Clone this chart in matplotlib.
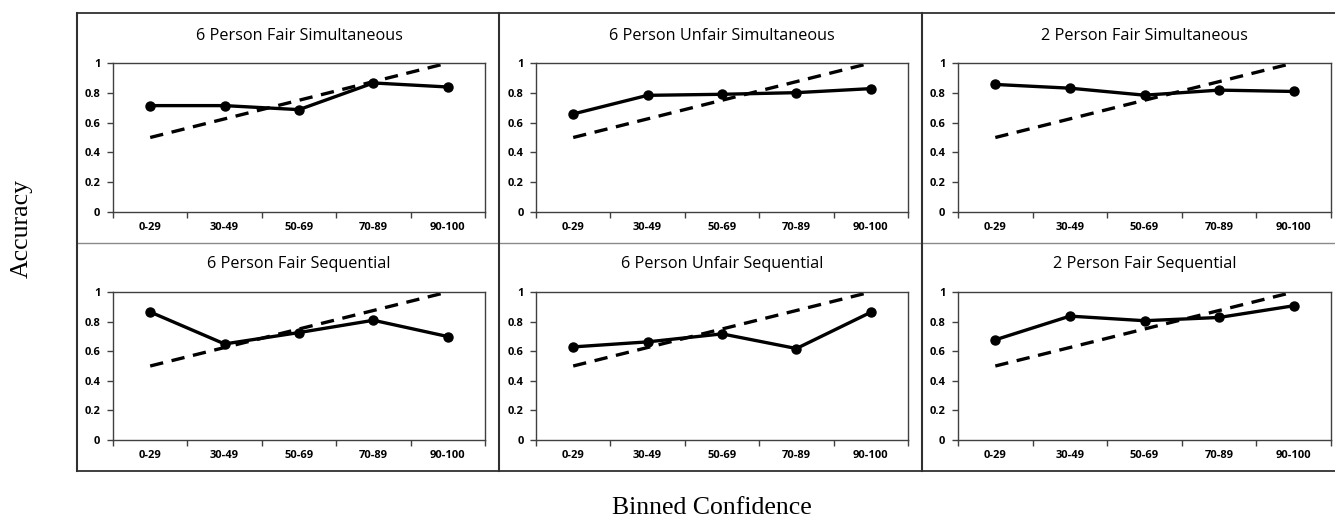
import matplotlib.pyplot as plt
from matplotlib.lines import Line2D

W, H = 1335, 521

bins = ["0-29", "30-49", "50-69", "70-89", "90-100"]
perfect = [0.5, 0.625, 0.75, 0.875, 1.0]

titles = ["6 Person Fair Simultaneous", "6 Person Unfair Simultaneous", "2 Person Fair Simultaneous",
          "6 Person Fair Sequential", "6 Person Unfair Sequential", "2 Person Fair Sequential"]
fair6_sim = [0.714, 0.714, 0.687, 0.866, 0.839]
unfair6_sim = [0.658, 0.783, 0.790, 0.801, 0.828]
fair2_sim = [0.856, 0.831, 0.784, 0.818, 0.809]
fair6_seq = [0.865, 0.649, 0.726, 0.809, 0.699]
unfair6_seq = [0.629, 0.663, 0.717, 0.618, 0.863]
fair2_seq = [0.677, 0.837, 0.806, 0.828, 0.907]
series = [fair6_sim, unfair6_sim, fair2_sim, fair6_seq, unfair6_seq, fair2_seq]

fig = plt.figure(figsize=(W / 100, H / 100), dpi=100)

def fx(px):
    return px / W

def fy(py):
    return 1 - py / H

# plot area pixel boxes (left, right, top, bottom)
col_x = [(113, 485), (536, 908), (958, 1331)]
row_y = [(63, 212), (292, 440)]
title_y = [36, 264]

for i, (title, vals) in enumerate(zip(titles, series)):
    r, c = divmod(i, 3)
    x0, x1 = col_x[c]
    y0, y1 = row_y[r]
    ax = fig.add_axes([fx(x0), fy(y1), fx(x1 - x0), (y1 - y0) / H])
    xs = range(len(bins))
    ax.plot(xs, perfect, color="black", lw=2.4, dashes=(4, 2.6))
    ax.plot(xs, vals, color="black", lw=2.4, marker="o", ms=6.5)
    ax.set_xlim(-0.5, 4.5)
    ax.set_ylim(0, 1)
    ax.set_xticks([-0.5, 0.5, 1.5, 2.5, 3.5, 4.5])
    ax.set_xticklabels([])
    ax.set_xticks(list(xs), minor=True)
    ax.set_xticklabels(bins, minor=True, fontsize=8, fontweight="bold", family="Open Sans")
    ax.tick_params(axis="x", which="major", length=4, direction="out", width=1, color="#404040")
    ax.tick_params(axis="x", which="minor", length=0, pad=7)
    ax.set_yticks([0, 0.2, 0.4, 0.6, 0.8, 1])
    ax.set_yticklabels(["0", "0.2", "0.4", "0.6", "0.8", "1"], fontsize=8, fontweight="bold", family="Open Sans")
    ax.tick_params(axis="y", length=4, direction="out", width=1, color="#404040", pad=5)
    for s in ax.spines.values():
        s.set_color("#404040")
        s.set_linewidth(1.0)
    fig.text(fx((x0 + x1) / 2), fy(title_y[r]), title, ha="center", va="center",
             fontsize=11.7, family="Open Sans")

# panel frames
dark = "#303030"
fig.add_artist(Line2D([fx(77), 1], [fy(13), fy(13)], color=dark, lw=1.3))
fig.add_artist(Line2D([fx(77), 1], [fy(471), fy(471)], color=dark, lw=1.3))
fig.add_artist(Line2D([fx(77), 1], [fy(243), fy(243)], color="#8a8a8a", lw=1.0))
for px in [77, 499, 922]:
    fig.add_artist(Line2D([fx(px), fx(px)], [fy(13), fy(471)], color=dark, lw=1.5))

fig.text(fx(22), fy(229), "Accuracy", rotation=90, ha="center", va="center",
         fontsize=18.5, family="Liberation Serif")
fig.text(fx(712), fy(508), "Binned Confidence", ha="center", va="center",
         fontsize=18.5, family="Liberation Serif")

fig.savefig("out.png", dpi=100)
